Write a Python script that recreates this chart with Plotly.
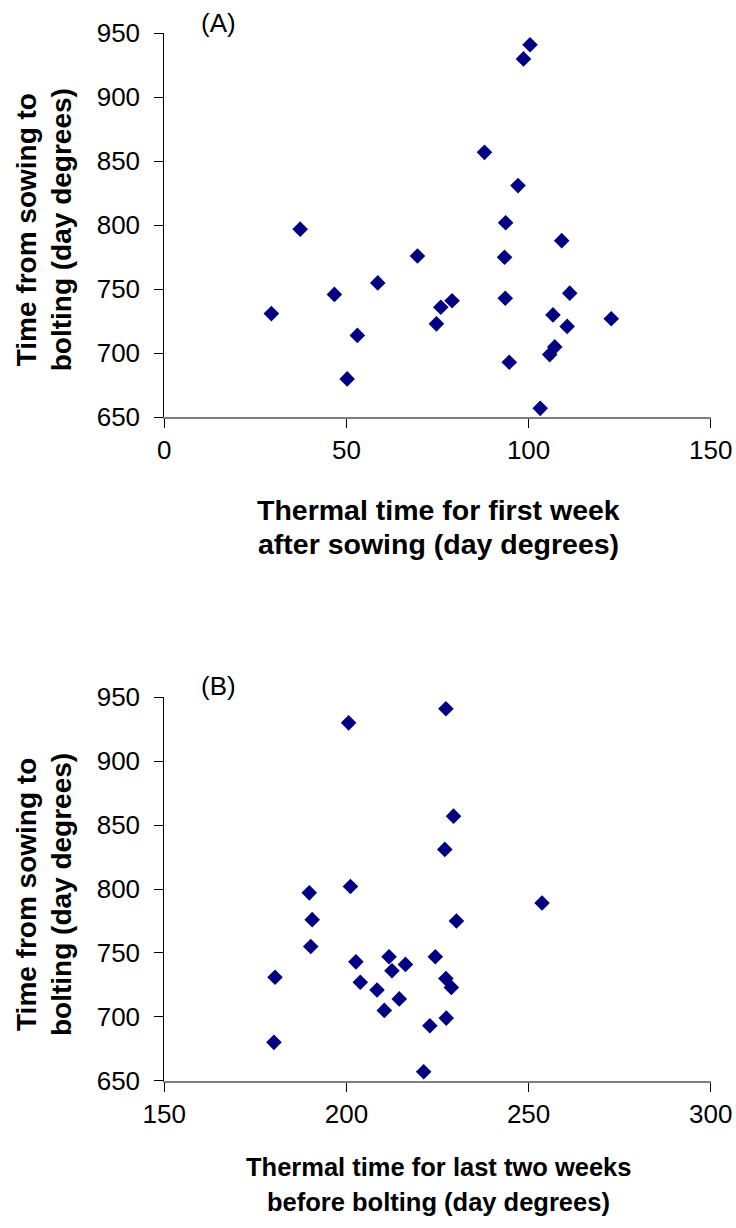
import plotly.graph_objects as go

W, H = 736, 1228

# Panel A: thermal time for first week after sowing vs time to bolting
a_x = [29.4, 37.3, 46.7, 53.0, 50.2, 58.6, 69.5, 74.7, 75.9, 79.0, 87.9, 93.7, 93.4,
       93.6, 94.7, 97.1, 98.6, 100.4, 103.2, 105.8, 107.2, 106.7, 109.1, 110.6, 111.3, 122.7]
a_y = [731, 797, 746, 714, 680, 755, 776, 723, 736, 741, 857, 802, 775,
       743, 693, 831, 930, 941, 657, 699, 705, 730, 788, 721, 747, 727]

# Panel B: thermal time for last two weeks before bolting vs time to bolting
b_x = [227.3, 200.6, 229.4, 227.0, 201.1, 189.8, 253.7, 190.6, 230.2, 190.2, 202.6, 211.7, 224.4,
       216.2, 212.5, 180.4, 227.3, 203.8, 228.8, 208.4, 214.5, 210.4, 227.4, 222.9, 180.1, 221.2]
b_y = [941, 930, 857, 831, 802, 797, 789, 776, 775, 755, 743, 747, 747,
       741, 736, 731, 730, 727, 723, 721, 714, 705, 699, 693, 680, 657]

a_xticks = [0, 50, 100, 150]
b_xticks = [150, 200, 250, 300]
y_ticks = [650, 700, 750, 800, 850, 900, 950]

y_title = ["Time from sowing to", "bolting (day degrees)"]
a_xtitle = ["Thermal time for first week", "after sowing (day degrees)"]
b_xtitle = ["Thermal time for last two weeks", "before bolting (day degrees)"]
panel_labels = ["(A)", "(B)"]

FONT = "Arial, Liberation Sans, sans-serif"
NAVY = "#000080"


def px(x):
    return x / W


def py(y):
    return 1 - y / H


# pixel geometry of plot areas
left, right = 164.3, 710.7
a_top, a_bot = 33.3, 417.3
b_top, b_bot = 697.3, 1080.7

marker = dict(symbol="diamond", size=12, color=NAVY, line=dict(width=0))

fig = go.Figure()
fig.add_trace(go.Scatter(x=a_x, y=a_y, mode="markers", marker=marker,
                         xaxis="x", yaxis="y", cliponaxis=False, hoverinfo="x+y"))
fig.add_trace(go.Scatter(x=b_x, y=b_y, mode="markers", marker=marker,
                         xaxis="x2", yaxis="y2", cliponaxis=False, hoverinfo="x+y"))

xcommon = dict(showgrid=False, zeroline=False, showline=True, linecolor="#808080",
               linewidth=1.6, ticks="outside", ticklen=9, tickcolor="#000000", tickwidth=1,
               tickfont=dict(family=FONT, size=26, color="#000000"), fixedrange=True,
               ticklabelstandoff=0, automargin=False)
ycommon = dict(showgrid=False, zeroline=False, showline=True, linecolor="#000000",
               linewidth=1, ticks="outside", ticklen=9, tickcolor="#000000", tickwidth=1,
               tickfont=dict(family=FONT, size=26, color="#000000"), fixedrange=True,
               range=[650, 950], tickvals=y_ticks, ticklabelstandoff=9, automargin=False)

fig.update_layout(
    width=W, height=H,
    margin=dict(l=0, r=0, t=0, b=0, pad=0, autoexpand=False),
    paper_bgcolor="white", plot_bgcolor="white",
    showlegend=False,
    xaxis=dict(domain=[px(left), px(right)], range=[0, 150], tickvals=a_xticks,
               anchor="y", **xcommon),
    yaxis=dict(domain=[py(a_bot), py(a_top)], anchor="x", **ycommon),
    xaxis2=dict(domain=[px(left), px(right)], range=[150, 300], tickvals=b_xticks,
                anchor="y2", **xcommon),
    yaxis2=dict(domain=[py(b_bot), py(b_top)], anchor="x2", **ycommon),
)

ann = []
# y axis titles (two lines each, rotated)
for cy in [(a_top + a_bot) / 2 + 5, (b_top + b_bot) / 2 + 6]:
    for line, cx in zip(y_title, [26, 61]):
        ann.append(dict(text="<b>%s</b>" % line, x=px(cx), y=py(cy), xref="paper", yref="paper",
                        xanchor="center", yanchor="middle", textangle=-90, showarrow=False,
                        font=dict(family=FONT, size=28, color="#000000")))
# x axis titles
for lines, ys, fs in [(a_xtitle, [510, 544], 28.5), (b_xtitle, [1167, 1202], 25.5)]:
    for line, cy in zip(lines, ys):
        ann.append(dict(text="<b>%s</b>" % line, x=px(438), y=py(cy), xref="paper", yref="paper",
                        xanchor="center", yanchor="middle", showarrow=False,
                        font=dict(family=FONT, size=fs, color="#000000")))
# panel labels
for lab, cy in zip(panel_labels, [23, 686]):
    ann.append(dict(text=lab, x=px(218), y=py(cy), xref="paper", yref="paper",
                    xanchor="center", yanchor="middle", showarrow=False,
                    font=dict(family=FONT, size=26, color="#000000")))

fig.update_layout(annotations=ann)
fig.write_html("out.html")
